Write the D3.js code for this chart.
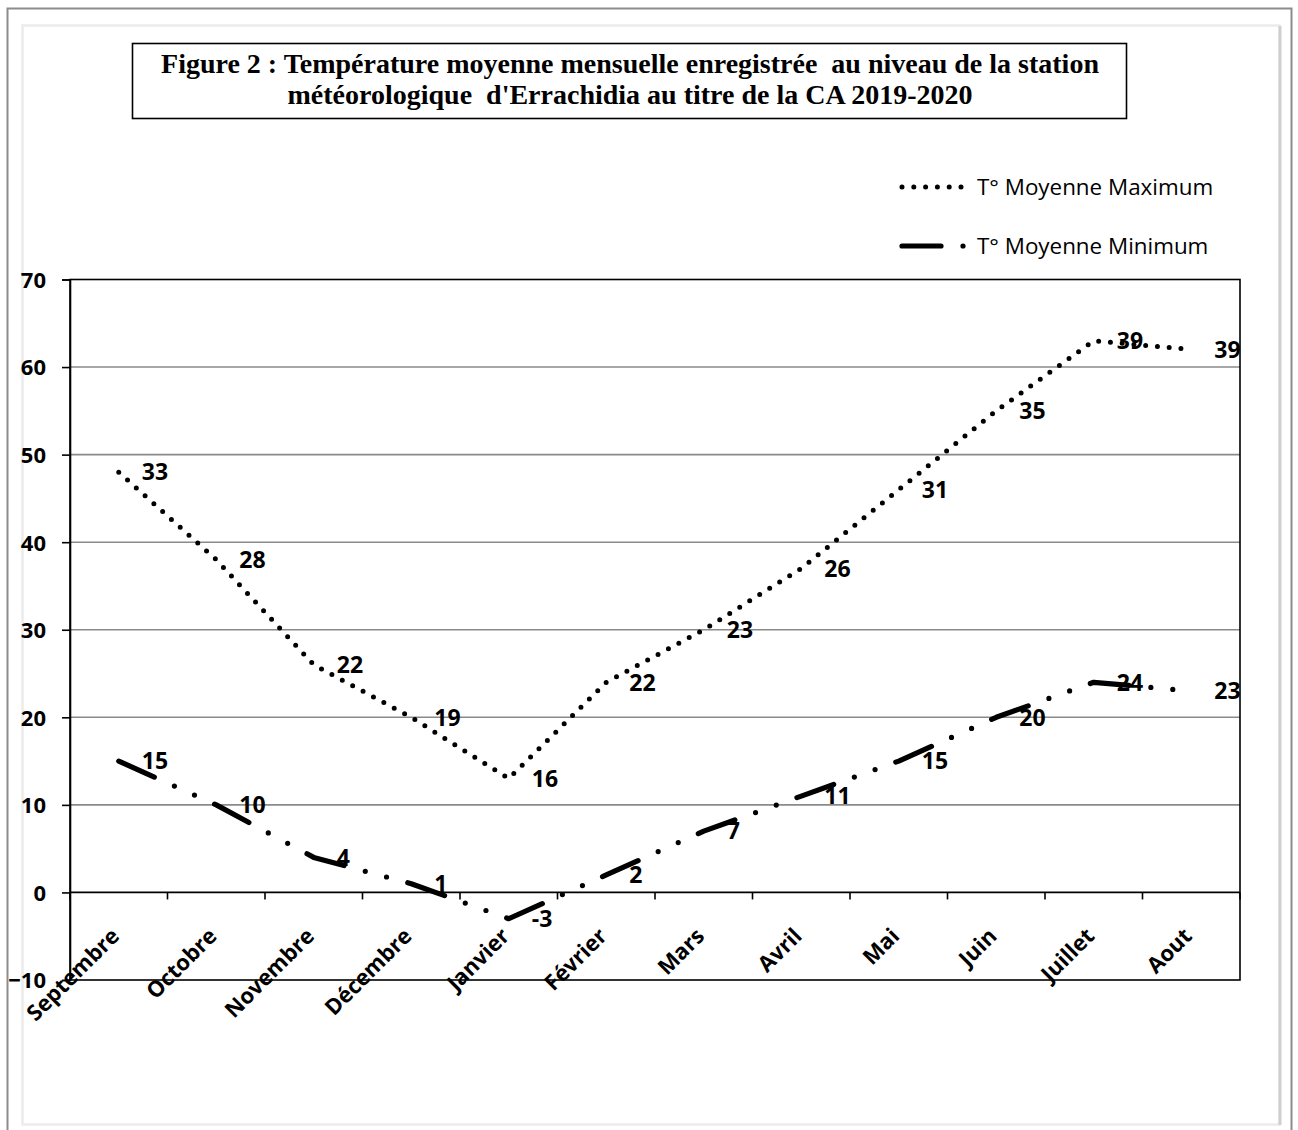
<!DOCTYPE html>
<html>
<head>
<meta charset="utf-8">
<script src="https://cdn.jsdelivr.net/npm/d3@7"></script>
<style>
  html, body { margin: 0; padding: 0; background: #fff; }
  svg { display: block; }
  text { white-space: pre; }
</style>
</head>
<body>
<svg id="chart" width="1298" height="1130"></svg>
<script>
// ---- Data ----
const months = ["Septembre","Octobre","Novembre","Décembre","Janvier","Février","Mars","Avril","Mai","Juin","Juillet","Aout"];
const minTemps = [15,10,4,1,-3,2,7,11,15,20,24,23];
const maxTemps = [33,28,22,19,16,22,23,26,31,35,39,39];
const yTickValues = [-10,0,10,20,30,40,50,60,70];
const seriesNames = ["T° Moyenne Maximum","T° Moyenne Minimum"];
const titleLines = [
  "Figure 2 : Température moyenne mensuelle enregistrée  au niveau de la station",
  "météorologique  d'Errachidia au titre de la CA 2019-2020"
];

// ---- Setup ----
const svg = d3.select("#chart");
const plot = { left: 70, right: 1240, top: 279.5, bottom: 980 };

// frames
svg.append("rect").attr("x", 7.5).attr("y", 8.5).attr("width", 1284).attr("height", 1140)
  .attr("fill", "#fff").attr("stroke", "#8c8c8c").attr("stroke-width", 2);
svg.append("rect").attr("x", 22.5).attr("y", 25.5).attr("width", 1257).attr("height", 1099)
  .attr("fill", "#fff").attr("stroke", "#ececec").attr("stroke-width", 2.5);
svg.append("line").attr("x1", 1280).attr("x2", 1280).attr("y1", 26).attr("y2", 1125)
  .attr("stroke", "#cfcfcf").attr("stroke-width", 3);

// Title box
svg.append("rect").attr("x", 132.5).attr("y", 43.5).attr("width", 994).attr("height", 75)
  .attr("fill", "#fff").attr("stroke", "#000").attr("stroke-width", 1.6);
svg.append("g").selectAll("text").data(titleLines).join("text")
  .attr("x", 630).attr("y", (d, i) => 73 + i * 31)
  .attr("text-anchor", "middle")
  .attr("font-family", "'Liberation Serif', serif")
  .attr("font-weight", "bold")
  .attr("font-size", 28)
  .attr("fill", "#000")
  .text(d => d);

// Scales
const x = d3.scaleBand().domain(months).range([plot.left, plot.right]).paddingInner(0).paddingOuter(0);
const cx = m => x(m) + x.bandwidth() / 2;
const y = d3.scaleLinear().domain([-10, 70]).range([plot.bottom, plot.top]);

// Stacked data (Excel stacked line)
const rows = months.map((m, i) => ({ month: m, min: minTemps[i], max: maxTemps[i] }));
const stacked = d3.stack().keys(["min", "max"]).offset(d3.stackOffsetNone)(rows);

// Gridlines
svg.append("g").selectAll("line").data(yTickValues.filter(v => v > 0 && v < 70)).join("line")
  .attr("x1", plot.left).attr("x2", plot.right)
  .attr("y1", d => y(d)).attr("y2", d => y(d))
  .attr("stroke", "#8a8a8a").attr("stroke-width", 1.6);

// Plot border
svg.append("rect").attr("x", plot.left).attr("y", y(70)).attr("width", plot.right - plot.left)
  .attr("height", y(-10) - y(70)).attr("fill", "none").attr("stroke", "#000").attr("stroke-width", 1.6);

// Y axis
const yAxis = svg.append("g").attr("transform", `translate(${plot.left},0)`)
  .call(d3.axisLeft(y).tickValues(yTickValues).tickSize(8).tickPadding(0).tickFormat(d3.format("d")));
yAxis.select(".domain").attr("stroke", "#000").attr("stroke-width", 1.6);
yAxis.selectAll(".tick line").attr("stroke", "#000").attr("stroke-width", 1.6);
yAxis.selectAll(".tick text")
  .attr("x", -24).attr("dy", "0.36em")
  .attr("font-family", "'Open Sans', sans-serif").attr("font-weight", "bold")
  .attr("font-size", 22).attr("fill", "#000");

// X axis at zero
const y0 = y(0);
const xAxisG = svg.append("g");
xAxisG.append("line").attr("x1", plot.left).attr("x2", plot.right).attr("y1", y0).attr("y2", y0)
  .attr("stroke", "#000").attr("stroke-width", 1.8);
const boundaries = months.map(m => x(m)).concat([x.range()[1]]);
xAxisG.selectAll("line.tk").data(boundaries).join("line").attr("class", "tk")
  .attr("x1", d => d).attr("x2", d => d).attr("y1", y0).attr("y2", y0 + 7)
  .attr("stroke", "#000").attr("stroke-width", 1.6);
xAxisG.selectAll("text").data(months).join("text")
  .attr("transform", d => `translate(${cx(d) + 2},${y0 + 45}) rotate(-45)`)
  .attr("text-anchor", "end")
  .attr("font-family", "'Open Sans', sans-serif").attr("font-weight", "bold")
  .attr("font-size", 22).attr("fill", "#000")
  .text(d => d);

// Lines
const line = d3.line().x(d => cx(d.data.month)).y(d => y(d[1]));
const styles = {
  max: { dash: "0 11.8", width: 5 },
  min: { dash: "39 22 0 22 0 22", width: 5.2 }
};
stacked.slice().reverse().forEach(s => {
  svg.append("path").datum(s)
    .attr("d", line)
    .attr("fill", "none").attr("stroke", "#000")
    .attr("stroke-width", styles[s.key].width)
    .attr("stroke-linecap", "round").attr("stroke-linejoin", "round")
    .attr("stroke-dasharray", styles[s.key].dash);
});

// Data labels (values shown, positioned right of stacked point)
stacked.forEach(s => {
  svg.append("g").selectAll("text").data(s).join("text")
    .attr("x", d => cx(d.data.month) + 23)
    .attr("y", d => y(d[1]))
    .attr("dy", "0.36em")
    .attr("text-anchor", "start")
    .attr("font-family", "'Open Sans', sans-serif").attr("font-weight", "bold")
    .attr("font-size", 23).attr("fill", "#000")
    .text(d => d.data[s.key]);
});

// Legend
const legendKeys = ["max", "min"];
const lg = svg.append("g");
legendKeys.forEach((k, i) => {
  const ly = 187 + i * 59;
  lg.append("line").attr("x1", 902).attr("x2", 965).attr("y1", ly).attr("y2", ly)
    .attr("stroke", "#000").attr("stroke-width", styles[k].width)
    .attr("stroke-linecap", "round").attr("stroke-dasharray", styles[k].dash);
  lg.append("text").attr("x", 977).attr("y", ly).attr("dy", "0.36em")
    .attr("font-family", "'Open Sans', sans-serif").attr("font-size", 22.4).attr("fill", "#000")
    .text(seriesNames[i]);
});
</script>
</body>
</html>
